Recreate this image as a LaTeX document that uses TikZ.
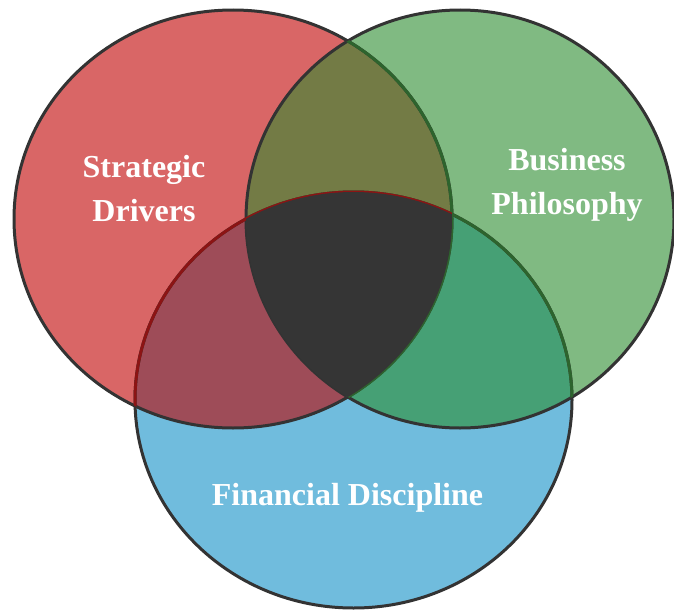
\documentclass[tikz,border=0pt]{standalone}
\usepackage{fontspec}
\setmainfont{Liberation Serif}
\usepackage{tikz}
\definecolor{driverred}{RGB}{217,102,102}
\definecolor{philgreen}{RGB}{128,186,130}
\definecolor{discblue}{RGB}{112,188,221}
\definecolor{redgreen}{RGB}{115,123,69}
\definecolor{redblue}{RGB}{158,76,88}
\definecolor{greenblue}{RGB}{70,160,117}
\definecolor{core}{RGB}{53,53,53}
\definecolor{rim}{RGB}{51,51,51}
\definecolor{rimred}{RGB}{140,20,20}
\definecolor{rimgreen}{RGB}{45,100,45}
\newcommand{\driversring}{(233bp,-219bp) ellipse [x radius=219bp, y radius=209bp]}
\newcommand{\philring}{(460bp,-219bp) ellipse [x radius=214bp, y radius=209bp]}
\newcommand{\discring}{(353.5bp,-400bp) ellipse [x radius=218.5bp, y radius=208bp]}

\begin{document}
\begin{tikzpicture}[label/.style={align=center,text=white,font=\bfseries\fontsize{32bp}{44bp}\selectfont}]
\useasboundingbox (0bp,0bp) rectangle (674bp,-612bp);

% the three sets
\fill[driverred] \driversring;
\fill[philgreen] \philring;
\fill[discblue] \discring;

% pairwise overlaps
\begin{scope}
\clip \driversring;
\fill[redgreen] \philring;
\fill[redblue] \discring;
\end{scope}
\begin{scope}
\clip \philring;
\fill[greenblue] \discring;
\end{scope}

% outlines
\draw[rim,line width=3bp] \driversring;
\draw[rim,line width=3bp] \philring;
\draw[rim,line width=3bp] \discring;
\begin{scope}
\clip \philring;
\draw[rimgreen,line width=3bp] \driversring;
\draw[rimgreen,line width=3bp] \discring;
\end{scope}
\begin{scope}
\clip \driversring;
\draw[rimred,line width=3bp] \discring;
\end{scope}

% common core
\begin{scope}
\clip \driversring;
\clip \philring;
\fill[core] \discring;
\end{scope}

\node (drivers) at (144bp,-189bp) [label] {Strategic\\Drivers};
\node (philosophy) at (567bp,-185bp) [label] {Business\\Philosophy};
\node (discipline) at (347.5bp,-505bp) [label,anchor=base] {Financial Discipline};
\end{tikzpicture}
\end{document}
